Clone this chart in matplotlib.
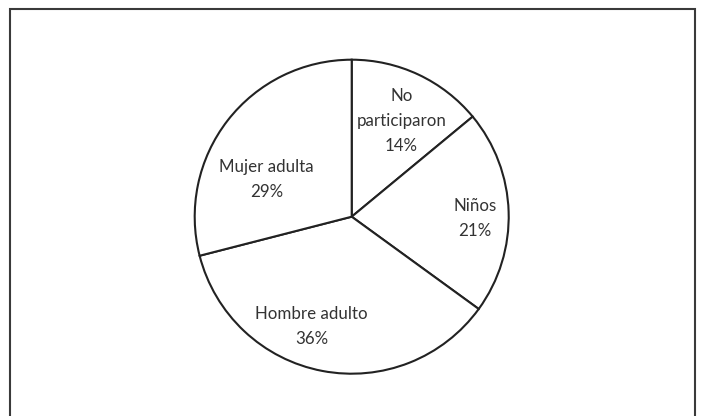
import matplotlib
matplotlib.use("Agg")
import matplotlib.pyplot as plt
from matplotlib.patches import Rectangle
import numpy as np

categories = ["No\nparticiparon", "Niños", "Hombre adulto", "Mujer adulta"]
values = [14, 21, 36, 29]

W, H = 702, 416
fig = plt.figure(figsize=(W / 100, H / 100), dpi=100)
ax = fig.add_axes([0, 0, 1, 1])
ax.set_xlim(0, W)
ax.set_ylim(0, H)
ax.set_aspect("equal")
ax.axis("off")

cx, cy = 351.7, H - 216.7
R = 157
wedges, _ = ax.pie(values, startangle=90, counterclock=False,
                   center=(cx, cy), radius=R,
                   colors=["white"] * len(values),
                   wedgeprops=dict(edgecolor="#222222", linewidth=1.5))
ax.set_xlim(0, W)
ax.set_ylim(0, H)

# label placement (radius in pixels, angle in degrees) relative to pie center
label_pos = [(108, 62.5), (123, -0.7), (117, 250), (92.6, 156.5)]
for cat, v, (r, a) in zip(categories, values, label_pos):
    x = cx + r * np.cos(np.radians(a))
    y = cy + r * np.sin(np.radians(a))
    ax.text(x, y, f"{cat}\n{v}%", ha="center", va="center",
            fontsize=12.2, family="Lato", color="#333333", linespacing=1.7)

frame = Rectangle((9.5, -10), 685.5, H - 8.5 + 10, fill=False,
                  edgecolor="#3a3a3a", linewidth=1.5)
ax.add_patch(frame)

fig.savefig("out.png", dpi=100, facecolor="white")
